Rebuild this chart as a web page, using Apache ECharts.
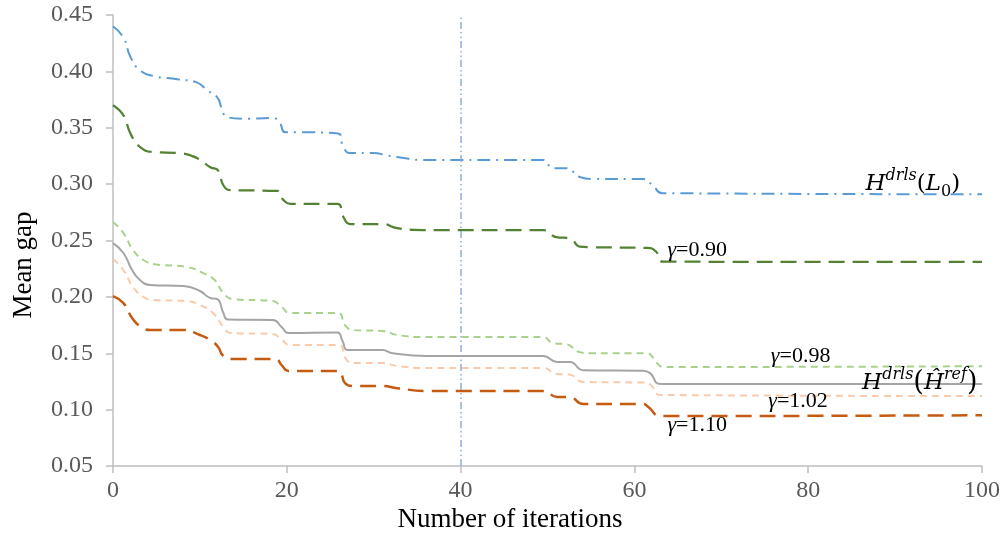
<!DOCTYPE html>
<html>
<head>
<meta charset="utf-8">
<script src="https://cdn.jsdelivr.net/npm/echarts@6/dist/echarts.min.js"></script>
<style>
  html, body { margin: 0; padding: 0; background: #ffffff; }
  #chart { width: 1005px; height: 541px; }
</style>
</head>
<body>
<div id="chart"></div>
<script>
// Mean gap per iteration, as [iteration, mean gap] pairs for each heuristic variant
const hL0 = [[0,0.440],[1.2,0.430],[2,0.413],[3.1,0.401],[4.6,0.396],[7.4,0.393],[9.7,0.390],[10.8,0.3835],[12,0.377],[12.5,0.3675],[13.1,0.3595],[15,0.358],[18.4,0.3586],[19.2,0.354],[19.8,0.346],[21.5,0.346],[25.9,0.345],[26.5,0.333],[27.3,0.3275],[30,0.3275],[31.5,0.3255],[32.7,0.324],[35.7,0.3215],[49.5,0.3215],[50.6,0.314],[52.2,0.314],[53.7,0.3063],[55.2,0.3045],[61,0.3045],[62.1,0.299],[63.2,0.292],[100,0.291]];
const gamma090 = [[0,0.370],[1.2,0.361],[2,0.345],[3.1,0.333],[4.6,0.3285],[7.7,0.3275],[9.7,0.323],[11.2,0.315],[12.1,0.312],[12.7,0.299],[13.5,0.2947],[18.9,0.294],[19.6,0.286],[20.4,0.2824],[25.8,0.2824],[26.5,0.271],[27.3,0.2646],[31,0.2646],[32.7,0.261],[35.7,0.2593],[49.5,0.2593],[51,0.253],[52.6,0.252],[53.7,0.2445],[55,0.244],[61.5,0.2435],[62.5,0.240],[63.3,0.2312],[100,0.231]];
const gamma098 = [[0,0.2664],[1.2,0.2566],[2.3,0.2415],[3.5,0.2327],[4.8,0.229],[8.5,0.2265],[10.4,0.221],[11.7,0.2149],[12.7,0.2034],[13.8,0.198],[18.4,0.1963],[19.4,0.191],[20.4,0.1857],[25.9,0.1857],[26.7,0.175],[27.6,0.1706],[31,0.1697],[32.7,0.1662],[35.7,0.1644],[49.5,0.1644],[50.6,0.159],[52.2,0.158],[53.7,0.151],[54.9,0.150],[61.4,0.150],[62.6,0.1413],[63.3,0.1378],[100,0.1385]];
const hRef = [[0,0.2477],[1.2,0.2389],[2.2,0.2238],[3.1,0.215],[4.3,0.2105],[8.1,0.2096],[10,0.2052],[11.2,0.199],[12,0.198],[12.7,0.1857],[13.2,0.180],[18.4,0.1795],[19.4,0.1733],[20.2,0.168],[25.8,0.1685],[26.4,0.161],[27,0.1528],[31,0.1528],[32.2,0.150],[36.1,0.1475],[49.5,0.1475],[51.1,0.1422],[52.6,0.1422],[54.1,0.135],[61,0.1345],[61.8,0.1324],[63,0.1227],[100,0.1227]];
const gamma102 = [[0,0.2336],[1.2,0.2238],[2.3,0.2087],[3.5,0.200],[4.6,0.1972],[8.5,0.1963],[10,0.1928],[11.5,0.1857],[12.7,0.1733],[13.5,0.168],[18.4,0.167],[19.4,0.162],[20.4,0.1573],[25.9,0.1573],[26.9,0.144],[27.6,0.1413],[31,0.1413],[32.7,0.1387],[36.1,0.1369],[49.5,0.1369],[51.1,0.1316],[52.6,0.131],[54.1,0.1245],[61,0.124],[61.8,0.1225],[63,0.113],[100,0.112]];
const gamma110 = [[0,0.2007],[1.2,0.1945],[2.2,0.1812],[3.1,0.1741],[4.3,0.1706],[8.1,0.1706],[10,0.1662],[11.2,0.1617],[12.1,0.1555],[12.7,0.1475],[13.8,0.1449],[18.7,0.1449],[19.4,0.1395],[20.2,0.1343],[25.9,0.1343],[26.7,0.1236],[27.6,0.121],[31,0.121],[32.7,0.119],[36.1,0.1166],[49.5,0.1166],[51.1,0.1112],[52.6,0.111],[54.1,0.105],[61,0.105],[61.6,0.1023],[63,0.0943],[100,0.095]];

// Iteration marked by the vertical reference line
const markIteration = 40;

// Axis ticks
const xTicks = { min: 0, max: 100, interval: 20 };
const yTicks = { min: 0.05, max: 0.45, interval: 0.05 };

// Curve annotations (rich text) and where they sit, in data coordinates
const labelTexts = [
  '{m|H}{sup|drls}{p|(}{m|L}{sub|0}{p|)}',
  '{gi|γ}{gn|=0.90}',
  '{gi|γ}{gn|=0.98}',
  '{m|H}{sup|drls}{pb|(}{m|Ĥ}{sup|ref}{pb|)}',
  '{gi|γ}{gn|=1.02}',
  '{gi|γ}{gn|=1.10}'
];
const labelAnchors = [[86.6, 0.300], [63.8, 0.2416], [75.7, 0.1475], [86.2, 0.1236], [75.4, 0.1076], [63.8, 0.0863]];

const SERIF = '"Liberation Serif", "Times New Roman", serif';
const MATH = '"DejaVu Serif", serif';

const chart = echarts.init(document.getElementById('chart'), null, { renderer: 'canvas' });

function curve(name, data, color, width, dash) {
  return {
    name, type: 'line', data,
    smooth: 0.5,
    symbol: 'none', silent: true,
    lineStyle: { color, width, type: dash, cap: 'butt' },
    z: 3
  };
}

const series = [
  curve('Hdrls(L0)', hL0, '#5b9bd5', 2, [13, 6, 2, 6]),
  curve('γ=0.90', gamma090, '#548235', 2.25, [16, 8]),
  curve('γ=0.98', gamma098, '#a9d18e', 2, [7, 5]),
  curve('Hdrls(Href)', hRef, '#a5a5a5', 2, 'solid'),
  curve('γ=1.02', gamma102, '#f8cbad', 2, [7, 5]),
  curve('γ=1.10', gamma110, '#c55a11', 2.5, [16, 8])
];
series[0].markLine = {
  silent: true, symbol: 'none', animation: false,
  label: { show: false },
  lineStyle: { color: '#8faadc', width: 1.5, type: [7, 3, 1.5, 3, 1.5, 3] },
  data: [{ xAxis: markIteration }]
};

chart.setOption({
  animation: false,
  backgroundColor: '#ffffff',
  grid: { left: 113, right: 23, top: 15, bottom: 75, containLabel: false },
  xAxis: {
    type: 'value', min: xTicks.min, max: xTicks.max, interval: xTicks.interval,
    axisLine: { show: true, lineStyle: { color: '#bfbfbf', width: 1.5 } },
    axisTick: { show: true, length: 7, lineStyle: { color: '#bfbfbf', width: 1.5 } },
    axisLabel: { color: '#595959', fontFamily: SERIF, fontSize: 24, margin: 13 },
    splitLine: { show: false }
  },
  yAxis: {
    type: 'value', min: yTicks.min, max: yTicks.max, interval: yTicks.interval,
    axisLine: { show: true, lineStyle: { color: '#bfbfbf', width: 1.5 } },
    axisTick: { show: true, length: 7, lineStyle: { color: '#bfbfbf', width: 1.5 } },
    axisLabel: { color: '#595959', fontFamily: SERIF, fontSize: 24, margin: 20,
                 formatter: v => v.toFixed(2) },
    splitLine: { show: false }
  },
  series
});

const mathRich = {
  m:   { fontFamily: MATH, fontStyle: 'italic', fontSize: 23, lineHeight: 32, color: '#1a1a1a' },
  sup: { fontFamily: MATH, fontStyle: 'italic', fontSize: 16, lineHeight: 17, verticalAlign: 'top', color: '#1a1a1a' },
  sub: { fontFamily: MATH, fontSize: 16, lineHeight: 15, verticalAlign: 'bottom', color: '#1a1a1a' },
  p:   { fontFamily: MATH, fontSize: 23, lineHeight: 32, color: '#1a1a1a' },
  pb:  { fontFamily: MATH, fontSize: 27, lineHeight: 32, color: '#1a1a1a' },
  gi:  { fontFamily: SERIF, fontStyle: 'italic', fontSize: 22, lineHeight: 24, color: '#1a1a1a' },
  gn:  { fontFamily: SERIF, fontSize: 22, lineHeight: 24, color: '#1a1a1a' }
};

const graphics = labelTexts.map((t, i) => {
  const p = chart.convertToPixel({ gridIndex: 0 }, labelAnchors[i]);
  return {
    type: 'text', x: p[0], y: p[1], z: 10, silent: true,
    style: { text: t, rich: mathRich, align: 'left', verticalAlign: 'middle' }
  };
});

// Axis titles
graphics.push({
  type: 'text', x: 510, y: 520, silent: true,
  style: { text: 'Number of iterations', fontFamily: SERIF, fontSize: 27, fill: '#000000',
           align: 'center', verticalAlign: 'middle' }
});
graphics.push({
  type: 'text', x: 24, y: 265, rotation: Math.PI / 2, silent: true,
  style: { text: 'Mean gap', fontFamily: SERIF, fontSize: 27, fill: '#000000',
           align: 'center', verticalAlign: 'middle' }
});

chart.setOption({ graphic: graphics });
</script>
</body>
</html>
